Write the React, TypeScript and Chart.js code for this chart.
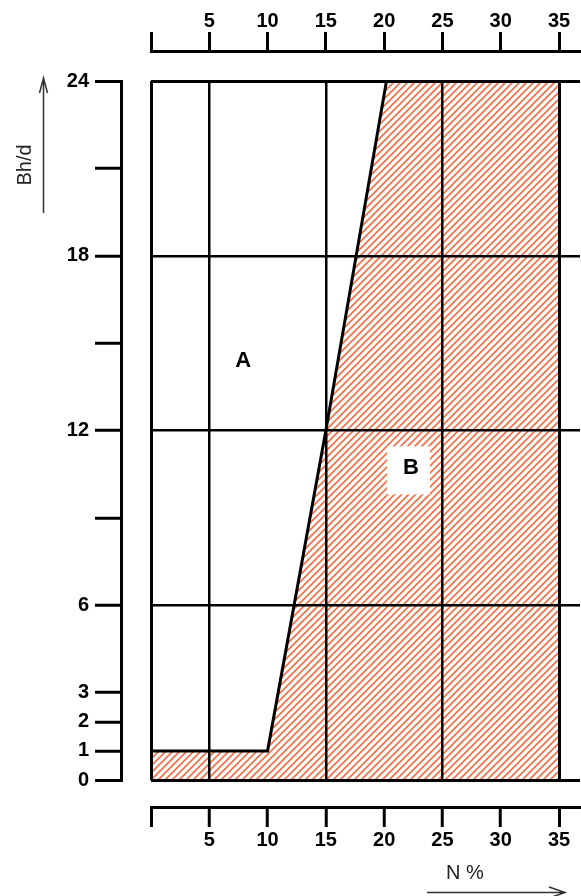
import React, { useEffect, useRef } from 'react';
import { Chart, registerables } from 'chart.js';

Chart.register(...registerables);

// ---------- data ----------
// boundary between region A and region B (B lies below / right of it)
const BOUNDARY_N = [0, 10, 15, 20.2, 35]; // N %
const BOUNDARY_BHD = [1, 1, 12, 24, 24]; // Bh/d

const X_TICKS = [0, 5, 10, 15, 20, 25, 30, 35];
const X_GRID = [0, 5, 15, 25, 35];
const Y_TICKS = [0, 1, 2, 3, 6, 9, 12, 15, 18, 21, 24];
const Y_LABELED = [0, 1, 2, 3, 6, 12, 18, 24];
const Y_GRID = [0, 6, 12, 18, 24];

const REGION_NAMES = ['A', 'B'];
const REGION_N = [7.9, 22.3];
const REGION_BHD = [14.4, 10.7];

const X_MIN = 0;
const X_MAX = 36.8;
const Y_MIN = 0;
const Y_MAX = 24;

// axis lines placed away from the plot frame (in data units)
const LEFT_AXIS_AT = -2.57;
const BOTTOM_AXIS_AT = -0.95;
const TOP_AXIS_AT = 25.03;

const X_TITLE = 'N %';
const Y_TITLE = 'Bh/d';

// ---------- styles ----------
const W = 581;
const H = 896;
const FONT = "'Liberation Sans', Arial, Helvetica, sans-serif";
const TICK_FONT = { family: FONT, size: 20, weight: 'bold' as const };
const HATCH_COLOR = 'rgb(240,116,76)';

function makeHatch(): CanvasPattern | string {
  const s = 7;
  const c = document.createElement('canvas');
  c.width = s;
  c.height = s;
  const g = c.getContext('2d');
  if (!g) return HATCH_COLOR;
  g.strokeStyle = HATCH_COLOR;
  g.lineWidth = 1.8;
  g.beginPath();
  g.moveTo(0, s);
  g.lineTo(s, 0);
  g.moveTo(-1, 1);
  g.lineTo(1, -1);
  g.moveTo(s - 1, s + 1);
  g.lineTo(s + 1, s - 1);
  g.stroke();
  const p = g.createPattern(c, 'repeat');
  return p || HATCH_COLOR;
}

const setTicks = (values: number[]) => (s: any) => {
  s.ticks = values.map((v) => ({ value: v }));
};

const annotations = {
  id: 'annotations',
  afterDraw(chart: any) {
    const { ctx, scales } = chart;
    const x = scales.x;
    const y = scales.y;
    ctx.save();
    // region letters
    ctx.font = `bold 22px ${FONT}`;
    ctx.textAlign = 'center';
    ctx.textBaseline = 'middle';
    REGION_NAMES.forEach((name, i) => {
      const px = x.getPixelForValue(REGION_N[i]);
      const py = y.getPixelForValue(REGION_BHD[i]);
      if (name === 'B') {
        ctx.fillStyle = '#ffffff';
        ctx.fillRect(px - 24, py - 22, 43, 48);
      }
      ctx.fillStyle = '#000000';
      ctx.fillText(name, px, py);
    });

    // y title + arrow
    ctx.fillStyle = '#222222';
    ctx.strokeStyle = '#333333';
    ctx.lineWidth = 1.5;
    ctx.font = `20px ${FONT}`;
    ctx.save();
    ctx.translate(25, 165);
    ctx.rotate(-Math.PI / 2);
    ctx.fillText(Y_TITLE, 0, 0);
    ctx.restore();
    ctx.beginPath();
    ctx.moveTo(43.5, 213);
    ctx.lineTo(43.5, 78);
    ctx.moveTo(39.5, 93);
    ctx.lineTo(43.5, 78);
    ctx.lineTo(47.5, 93);
    ctx.stroke();

    // x title + arrow
    ctx.fillText(X_TITLE, 465, 873);
    ctx.beginPath();
    ctx.moveTo(427, 892.5);
    ctx.lineTo(564, 892.5);
    ctx.moveTo(549, 887);
    ctx.lineTo(565, 892.5);
    ctx.lineTo(549, 898);
    ctx.stroke();
    ctx.restore();
  },
};

export default function App() {
  const ref = useRef<HTMLCanvasElement | null>(null);

  useEffect(() => {
    document.body.style.margin = '0';
    const canvas = ref.current;
    if (!canvas) return;
    const hatch = makeHatch();
    const black = '#000000';
    const none = 'rgba(0,0,0,0)';

    const chart = new Chart(canvas, {
      type: 'scatter',
      data: {
        datasets: [
          {
            data: BOUNDARY_N.map((n, i) => ({ x: n, y: BOUNDARY_BHD[i] })),
            showLine: true,
            borderColor: black,
            borderWidth: 3,
            pointRadius: 0,
            tension: 0,
            fill: 'origin',
            backgroundColor: hatch as any,
            xAxisID: 'x',
            yAxisID: 'y',
          } as any,
        ],
      },
      options: {
        animation: false,
        responsive: false,
        devicePixelRatio: 1,
        events: [],
        layout: { padding: { left: 51, top: 81, right: 1, bottom: 116 } },
        plugins: {
          legend: { display: false },
          tooltip: { enabled: false },
          title: { display: false },
        },
        scales: {
          x: {
            type: 'linear',
            min: X_MIN,
            max: X_MAX,
            position: { y: BOTTOM_AXIS_AT } as any,
            afterBuildTicks: setTicks(X_TICKS),
            afterFit: (s: any) => {
              s.height = 0;
            },
            ticks: {
              autoSkip: false,
              maxRotation: 0,
              font: TICK_FONT,
              color: black,
              padding: 2.5,
              callback: (v: any) => (v === 0 ? '' : String(v)),
            },
            grid: {
              z: 1,
              color: (c: any) => (c.tick && X_GRID.includes(c.tick.value) ? black : none),
              lineWidth: (c: any) => (c.tick && (c.tick.value === 0 || c.tick.value === 35) ? 3 : 2.5),
              tickColor: black,
              tickWidth: 3,
              tickLength: 18,
            },
            border: { display: true, color: black, width: 3, z: 1 },
          } as any,
          x2: {
            axis: 'x',
            type: 'linear',
            min: X_MIN,
            max: X_MAX,
            position: { y: TOP_AXIS_AT } as any,
            afterBuildTicks: setTicks(X_TICKS),
            afterFit: (s: any) => {
              s.height = 0;
            },
            ticks: {
              autoSkip: false,
              maxRotation: 0,
              font: TICK_FONT,
              color: black,
              padding: -21,
              callback: (v: any) => (v === 0 ? '' : String(v)),
            },
            grid: {
              drawOnChartArea: false,
              color: black,
              tickColor: black,
              tickWidth: 3,
              tickLength: -21,
            },
            border: { display: true, color: black, width: 3 },
          } as any,
          y: {
            type: 'linear',
            min: Y_MIN,
            max: Y_MAX,
            position: { x: LEFT_AXIS_AT } as any,
            afterBuildTicks: setTicks(Y_TICKS),
            afterFit: (s: any) => {
              s.width = 0;
            },
            ticks: { display: false, autoSkip: false },
            grid: {
              z: 1,
              color: (c: any) => (c.tick && Y_GRID.includes(c.tick.value) ? black : none),
              lineWidth: (c: any) => (c.tick && (c.tick.value === 0 || c.tick.value === 24) ? 3 : 2.5),
              tickColor: black,
              tickWidth: 3,
              tickLength: 25,
            },
            border: { display: true, color: black, width: 3, z: 1 },
          } as any,
          yl: {
            axis: 'y',
            type: 'linear',
            min: Y_MIN,
            max: Y_MAX,
            position: 'left',
            afterBuildTicks: setTicks(Y_TICKS),
            afterFit: (s: any) => {
              s.width = 100;
            },
            ticks: {
              autoSkip: false,
              font: TICK_FONT,
              color: black,
              padding: 62,
              callback: (v: any) => (Y_LABELED.includes(v) ? String(v) : ''),
            },
            grid: { display: false, drawTicks: false },
            border: { display: false },
          } as any,
        },
      },
      plugins: [annotations],
    } as any);

    return () => {
      chart.destroy();
    };
  }, []);

  return (
    <canvas
      ref={ref}
      width={W}
      height={H}
      style={{ display: 'block', width: W + 'px', height: H + 'px' }}
    />
  );
}
